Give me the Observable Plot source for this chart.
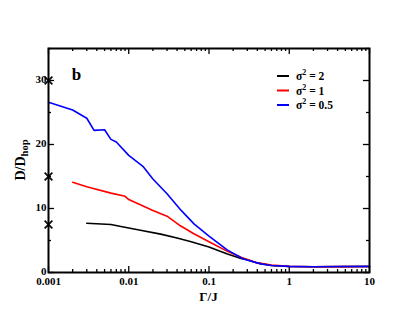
<!DOCTYPE html>
<html>
<head>
<meta charset="utf-8">
<script src="https://cdn.jsdelivr.net/npm/d3@7"></script>
<script src="https://cdn.jsdelivr.net/npm/@observablehq/plot@0.6"></script>
<style>
  html, body { margin: 0; padding: 0; background: #fff; }
  #chart { width: 415px; height: 321px; }
</style>
</head>
<body>
<div id="chart"></div>
<script>
// Series data (Γ/J, D/Dhop)
const blackX = [0.003, 0.006, 0.008, 0.014, 0.025, 0.04, 0.06, 0.1, 0.14, 0.17, 0.25, 0.3, 0.4, 0.6, 1, 2, 5, 10];
const blackY = [7.7, 7.5, 7.2, 6.6, 6.0, 5.4, 4.8, 4.0, 3.3, 2.9, 2.2, 2.0, 1.5, 1.1, 0.93, 0.9, 0.92, 0.93];
const redX = [0.002, 0.003, 0.006, 0.009, 0.01, 0.02, 0.03, 0.044, 0.064, 0.1, 0.17, 0.25, 0.4, 0.6, 1, 2, 5, 10];
const redY = [14.1, 13.4, 12.4, 11.9, 11.4, 9.7, 8.8, 7.3, 6.1, 4.8, 3.3, 2.4, 1.5, 1.15, 0.95, 0.9, 0.92, 0.93];
const blueX = [0.001, 0.002, 0.003, 0.0037, 0.005, 0.006, 0.007, 0.01, 0.015, 0.02, 0.03, 0.045, 0.065, 0.1, 0.17, 0.27, 0.44, 0.6, 1, 2, 5, 10];
const blueY = [26.6, 25.4, 24.1, 22.2, 22.3, 20.8, 20.4, 18.3, 16.6, 14.6, 12.3, 9.7, 7.6, 5.7, 3.5, 2.1, 1.35, 1.1, 0.95, 0.9, 0.93, 0.95];
const seriesNames = ["σ² = 2", "σ² = 1", "σ² = 0.5"];
const seriesSup = ["2", "1", "0.5"];
const seriesColors = ["#000000", "#ff0000", "#0000ff"];

// Reference markers (crosses) on the left axis
const crossX = [0.001, 0.001, 0.001];
const crossY = [30, 15, 7.5];

// Ticks
const xMajor = [0.001, 0.01, 0.1, 1, 10];
const xMinor = [];
for (const dec of [0.001, 0.01, 0.1, 1]) for (let m = 2; m <= 9; m++) xMinor.push(+(dec * m).toPrecision(3));
const yMajor = [0, 10, 20, 30];
const yMinor = [5, 15, 25, 35];

const toRows = (xs, ys, s) => xs.map((x, i) => ({x, y: ys[i], s}));
const rows = [
  ...toRows(blackX, blackY, seriesNames[0]),
  ...toRows(redX, redY, seriesNames[1]),
  ...toRows(blueX, blueY, seriesNames[2])
];
const crosses = crossX.map((x, i) => ({x, y: crossY[i]}));

const W = 415, H = 321;
const mL = 48, mR = 46, mT = 48, mB = 49;
const fw = W - mL - mR, fh = H - mT - mB;
const font = "'Liberation Serif', 'Times New Roman', serif";
const tk = {stroke: "#000", strokeWidth: 1.3};

const plot = Plot.plot({
  width: W, height: H,
  marginLeft: mL, marginRight: mR, marginTop: mT, marginBottom: mB,
  style: {fontFamily: font, fontSize: "11px", fontWeight: "bold", background: "#fff", color: "#000"},
  x: {type: "log", domain: [0.001, 10]},
  y: {domain: [0, 35]},
  color: {domain: seriesNames, range: seriesColors},
  marks: [
    // inward ticks on all four sides
    Plot.ruleX(xMajor, {x: d => d, insetTop: fh - 6, ...tk}),
    Plot.ruleX(xMinor, {x: d => d, insetTop: fh - 3, ...tk}),
    Plot.ruleX(xMajor, {x: d => d, insetBottom: fh - 6, ...tk}),
    Plot.ruleX(xMinor, {x: d => d, insetBottom: fh - 3, ...tk}),
    Plot.ruleY(yMajor, {y: d => d, insetRight: fw - 6, ...tk}),
    Plot.ruleY(yMinor, {y: d => d, insetRight: fw - 3, ...tk}),
    Plot.ruleY(yMajor, {y: d => d, insetLeft: fw - 6, ...tk}),
    Plot.ruleY(yMinor, {y: d => d, insetLeft: fw - 3, ...tk}),
    Plot.axisX({ticks: xMajor, tickSize: 0, tickPadding: 5, tickFormat: d => String(d), label: null, fontWeight: "bold"}),
    Plot.axisY({ticks: yMajor, tickSize: 0, tickPadding: 2, label: null, fontWeight: "bold", dy: -1}),
    Plot.line(rows, {x: "x", y: "y", z: "s", stroke: "s", strokeWidth: 1.6, curve: "linear"}),
    Plot.dot(crosses, {x: "x", y: "y", symbol: "times", r: 3.6, stroke: "#000", strokeWidth: 1.6}),
    Plot.text(["b"], {frameAnchor: "top-left", dx: 28, dy: 26, text: d => d, fontSize: 17, fontWeight: "bold", textAnchor: "middle", lineAnchor: "middle"}),
    Plot.frame({stroke: "#000", strokeWidth: 2})
  ]
});

const svg = d3.select(plot);
// y-axis label with subscript
const yl = svg.append("text")
  .attr("transform", `translate(25,${mT + fh / 2}) rotate(-90)`)
  .attr("text-anchor", "middle")
  .attr("font-family", font).attr("font-size", 14).attr("font-weight", "bold").attr("fill", "#000");
yl.append("tspan").text("D/D");
yl.append("tspan").attr("font-size", 10.5).attr("dy", 3).text("hop");
// x-axis label
svg.append("text")
  .attr("x", mL + fw / 2).attr("y", 301)
  .attr("text-anchor", "middle")
  .attr("font-family", font).attr("font-size", 13).attr("font-weight", "bold").attr("fill", "#000")
  .text("Γ/J");
// legend
const lg = svg.append("g").attr("font-family", font).attr("font-size", 11.5).attr("font-weight", "bold").attr("text-anchor", "start");
seriesNames.forEach((name, i) => {
  const y = 76 + i * 14.5;
  lg.append("line").attr("x1", 277).attr("x2", 289).attr("y1", y).attr("y2", y)
    .attr("stroke", seriesColors[i]).attr("stroke-width", 2);
  const t = lg.append("text").attr("x", 296).attr("y", y + 4).attr("fill", "#000").attr("text-anchor", "start");
  t.append("tspan").text("σ");
  t.append("tspan").attr("font-size", 8).attr("dy", -5).text("2");
  t.append("tspan").attr("dy", 5).text(" = " + seriesSup[i]);
});

document.getElementById("chart").appendChild(plot);
</script>
</body>
</html>
